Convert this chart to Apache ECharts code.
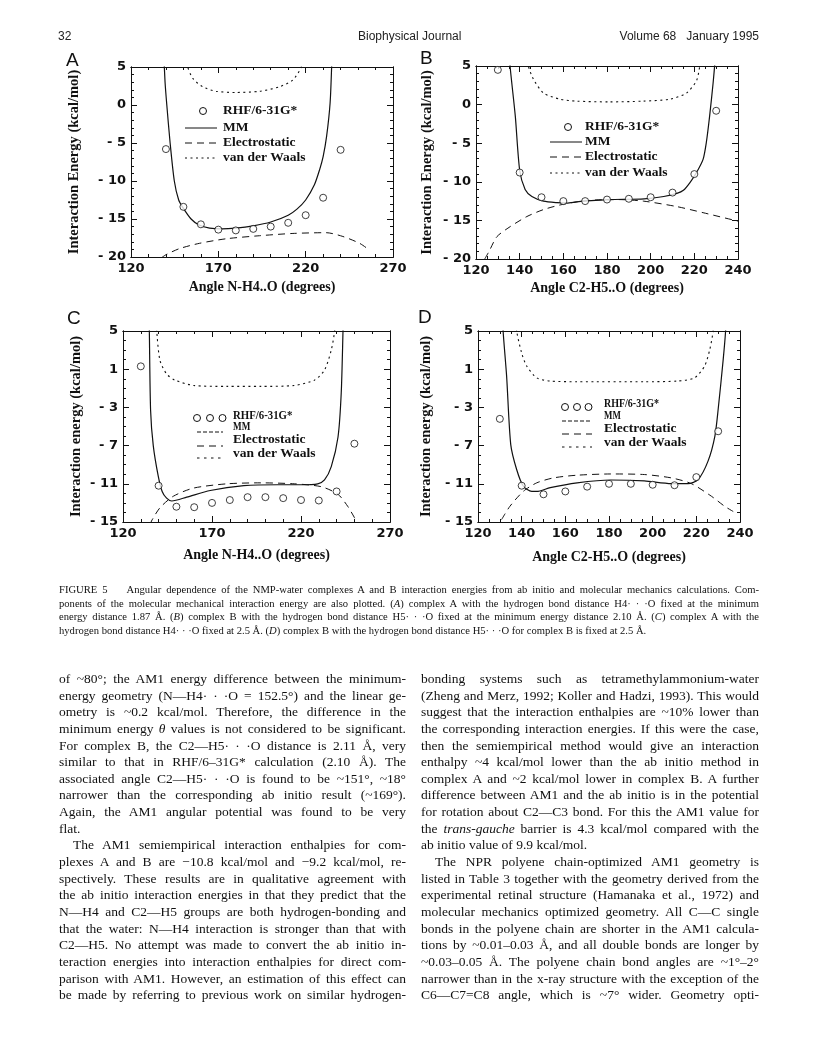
<!DOCTYPE html>
<html>
<head>
<meta charset="utf-8">
<script src="https://cdn.jsdelivr.net/npm/echarts@6/dist/echarts.min.js"></script>
<style>
html,body{margin:0;padding:0;background:#fff;}
#page{position:relative;width:816px;height:1056px;overflow:hidden;background:#fff;}
#chart{position:absolute;left:0;top:0;width:816px;height:1056px;}
.hdr{position:absolute;top:29px;font-family:"Liberation Sans",Arial,sans-serif;font-size:12px;color:#222;white-space:nowrap;}
.plet{position:absolute;font-family:"Liberation Sans",Arial,sans-serif;font-size:19px;color:#111;}
.cap{position:absolute;left:59px;width:700px;top:583px;font-family:"Liberation Serif","Times New Roman",serif;font-size:10.6px;line-height:13.6px;color:#111;}
.col{position:absolute;top:671px;font-family:"Liberation Serif","Times New Roman",serif;font-size:13.5px;line-height:16.65px;color:#111;}
.j{text-align:justify;text-align-last:justify;height:16.65px;}
.cap .j{height:13.6px;}
.l{text-align:left;text-align-last:left;}
.ind{text-indent:14px;}
</style>
</head>
<body>
<div id="page">
<div id="chart"></div>
<div class="hdr" style="left:58px;">32</div>
<div class="hdr" style="left:358px;">Biophysical Journal</div>
<div class="hdr" style="right:57px;">Volume 68&nbsp;&nbsp;&nbsp;January 1995</div>
<div class="plet" style="left:66px;top:49px;">A</div>
<div class="plet" style="left:420px;top:47px;">B</div>
<div class="plet" style="left:67px;top:307px;">C</div>
<div class="plet" style="left:418px;top:306px;">D</div>

<div class="cap">
<div class="j">FIGURE 5&nbsp;&nbsp;&nbsp; Angular dependence of the NMP-water complexes A and B interaction energies from ab initio and molecular mechanics calculations. Com-</div>
<div class="j">ponents of the molecular mechanical interaction energy are also plotted. (<i>A</i>) complex A with the hydrogen bond distance H4· · ·O fixed at the minimum</div>
<div class="j">energy distance 1.87 Å. (<i>B</i>) complex B with the hydrogen bond distance H5· · ·O fixed at the minimum energy distance 2.10 Å. (<i>C</i>) complex A with the</div>
<div class="j l">hydrogen bond distance H4· · ·O fixed at 2.5 Å. (<i>D</i>) complex B with the hydrogen bond distance H5· · ·O for complex B is fixed at 2.5 Å.</div>
</div>

<div class="col" style="left:59px;width:347px;">
<div class="j">of ~80°; the AM1 energy difference between the minimum-</div>
<div class="j">energy geometry (N—H4· · ·O = 152.5°) and the linear ge-</div>
<div class="j">ometry is ~0.2 kcal/mol. Therefore, the difference in the</div>
<div class="j">minimum energy <i>θ</i> values is not considered to be significant.</div>
<div class="j">For complex B, the C2—H5· · ·O distance is 2.11 Å, very</div>
<div class="j">similar to that in RHF/6–31G* calculation (2.10 Å). The</div>
<div class="j">associated angle C2—H5· · ·O is found to be ~151°, ~18°</div>
<div class="j">narrower than the corresponding ab initio result (~169°).</div>
<div class="j">Again, the AM1 angular potential was found to be very</div>
<div class="j l">flat.</div>
<div class="j ind">The AM1 semiempirical interaction enthalpies for com-</div>
<div class="j">plexes A and B are −10.8 kcal/mol and −9.2 kcal/mol, re-</div>
<div class="j">spectively. These results are in qualitative agreement with</div>
<div class="j">the ab initio interaction energies in that they predict that the</div>
<div class="j">N—H4 and C2—H5 groups are both hydrogen-bonding and</div>
<div class="j">that the water: N—H4 interaction is stronger than that with</div>
<div class="j">C2—H5. No attempt was made to convert the ab initio in-</div>
<div class="j">teraction energies into interaction enthalpies for direct com-</div>
<div class="j">parison with AM1. However, an estimation of this effect can</div>
<div class="j">be made by referring to previous work on similar hydrogen-</div>
</div>

<div class="col" style="left:421px;width:338px;">
<div class="j">bonding systems such as tetramethylammonium-water</div>
<div class="j">(Zheng and Merz, 1992; Koller and Hadzi, 1993). This would</div>
<div class="j">suggest that the interaction enthalpies are ~10% lower than</div>
<div class="j">the corresponding interaction energies. If this were the case,</div>
<div class="j">then the semiempirical method would give an interaction</div>
<div class="j">enthalpy ~4 kcal/mol lower than the ab initio method in</div>
<div class="j">complex A and ~2 kcal/mol lower in complex B. A further</div>
<div class="j">difference between AM1 and the ab initio is in the potential</div>
<div class="j">for rotation about C2—C3 bond. For this the AM1 value for</div>
<div class="j">the <i>trans-gauche</i> barrier is 4.3 kcal/mol compared with the</div>
<div class="j l">ab initio value of 9.9 kcal/mol.</div>
<div class="j ind">The NPR polyene chain-optimized AM1 geometry is</div>
<div class="j">listed in Table 3 together with the geometry derived from the</div>
<div class="j">experimental retinal structure (Hamanaka et al., 1972) and</div>
<div class="j">molecular mechanics optimized geometry. All C—C single</div>
<div class="j">bonds in the polyene chain are shorter in the AM1 calcula-</div>
<div class="j">tions by ~0.01–0.03 Å, and all double bonds are longer by</div>
<div class="j">~0.03–0.05 Å. The polyene chain bond angles are ~1°–2°</div>
<div class="j">narrower than in the x-ray structure with the exception of the</div>
<div class="j">C6—C7=C8 angle, which is ~7° wider. Geometry opti-</div>
</div>
</div>

<script>
// ---------------- DATA ----------------
// Panel A
const A_xTicks = [120, 170, 220, 270];
const A_yTicks = [-20, -15, -10, -5, 0, 5];
const A_rhf_x = [140, 150, 160, 170, 180, 190, 200, 210, 220, 230, 240];
const A_rhf_y = [-5.8, -13.4, -15.7, -16.4, -16.5, -16.3, -16.0, -15.5, -14.5, -12.2, -5.9];
const A_mm_x = [138.5, 139.5, 140.5, 142.4, 144.8, 147.3, 150, 154.4, 159, 165, 172, 180, 190, 200, 210, 215, 220, 225, 228, 230, 232, 234, 235];
const A_mm_y = [8, 3, 0, -5, -10, -12.5, -13.6, -15.0, -15.8, -16.2, -16.3, -16.2, -15.9, -15.4, -14.5, -13.7, -12.5, -10.5, -8.5, -6.8, -4.1, 0.3, 6];
const A_el_x = [137.5, 140, 147.7, 159.2, 174.5, 193.6, 212.7, 231.8, 241.3, 250.9, 256];
const A_el_y = [-20.1, -19.7, -18.9, -18.2, -17.6, -17.2, -16.9, -16.8, -17.3, -18.2, -19.0];
const A_vdw_x = [151, 152.5, 155.4, 161, 168.7, 180, 193.6, 205, 212.7, 217.5, 219];
const A_vdw_y = [7, 5, 3.5, 2.4, 1.8, 1.65, 1.8, 2.4, 3.3, 5, 7];

// Panel B
const B_xTicks = [120, 140, 160, 180, 200, 220, 240];
const B_yTicks = [-20, -15, -10, -5, 0, 5];
const B_rhf_x = [130, 140, 150, 160, 170, 180, 190, 200, 210, 220, 230];
const B_rhf_y = [4.5, -8.8, -12.0, -12.5, -12.5, -12.3, -12.2, -12.0, -11.4, -9.0, -0.8];
const B_mm_x = [135, 135.6, 138, 140, 142.5, 145.6, 150.9, 157, 162, 169, 181, 197, 206, 212, 215, 218, 221, 224, 225.5, 227, 228.6, 229.6];
const B_mm_y = [8, 5, -1.5, -8.5, -11, -11.9, -12.5, -12.7, -12.75, -12.5, -12.3, -12.2, -11.9, -11.5, -11.1, -10.1, -8.8, -7.1, -4.9, -1.5, 2.8, 6];
const B_el_x = [124, 126, 129.6, 135.7, 143.3, 150.9, 158.5, 166, 175, 185, 196.6, 211.8, 224, 240];
const B_el_y = [-20, -19.0, -17.1, -15.8, -14.5, -13.6, -13.0, -12.6, -12.35, -12.3, -12.5, -13.2, -14.0, -15.1];
const B_vdw_x = [143, 144, 146.3, 150.9, 158.5, 166, 181, 196.6, 208.8, 216.4, 221, 222.5, 223.5];
const B_vdw_y = [7, 5, 3.3, 1.5, 0.7, 0.45, 0.35, 0.45, 0.7, 1.5, 3.1, 5, 7];

// Panel C
const C_xTicks = [120, 170, 220, 270];
const C_yTicks = [-15, -11, -7, -3, 1, 5];
const C_rhf_x = [130, 140, 150, 160, 170, 180, 190, 200, 210, 220, 230, 240, 250];
const C_rhf_y = [1.3, -11.2, -13.4, -13.45, -13.0, -12.7, -12.4, -12.4, -12.5, -12.7, -12.75, -11.8, -6.8];
const C_mm_x = [134.5, 134.8, 135.5, 137, 139.8, 142, 144.5, 147.4, 155.8, 169, 187.9, 206.8, 220, 229.4, 233.2, 237, 240.8, 242.6, 243.6, 244];
const C_mm_y = [8, 5, -3.3, -7, -10.2, -11.8, -12.5, -12.8, -12.4, -11.7, -11.2, -11.1, -11.1, -11.0, -10.6, -9.2, -6.1, -1.5, 5, 8];
const C_el_x = [135.5, 136, 140.8, 148.3, 159.6, 178.5, 197.4, 216.2, 231.3, 240.8, 246.4, 250.2];
const C_el_y = [-15.3, -14.9, -13.5, -12.3, -11.45, -11.0, -10.9, -11.0, -11.3, -12.1, -13.4, -14.6];
const C_vdw_x = [138.5, 139.2, 140.8, 144.5, 149.2, 159.6, 178.5, 197.4, 216.2, 227.5, 233.2, 237, 238.9, 239.5];
const C_vdw_y = [7, 4.4, 1.9, 0.5, -0.15, -0.7, -0.8, -0.8, -0.7, -0.15, 0.9, 3, 5, 7];

// Panel D
const D_xTicks = [120, 140, 160, 180, 200, 220, 240];
const D_yTicks = [-15, -11, -7, -3, 1, 5];
const D_rhf_x = [130, 140, 150, 160, 170, 180, 190, 200, 210, 220, 230];
const D_rhf_y = [-4.2, -11.2, -12.1, -11.8, -11.3, -11.0, -11.0, -11.1, -11.15, -10.3, -5.5];
const D_mm_x = [131, 131.5, 133.1, 135, 137.7, 140.8, 144.6, 146.9, 153.1, 165.4, 180.8, 196.2, 208.5, 216.2, 220.8, 225.4, 228.5, 230, 232.3, 233.4, 234];
const D_mm_y = [8, 5, 0.3, -6.9, -9.5, -11.26, -11.8, -11.8, -11.4, -10.9, -10.6, -10.7, -10.98, -10.98, -10.56, -8.6, -6.0, -3.2, 2.0, 5, 8];
const D_el_x = [130.8, 134.6, 140.8, 146.9, 154.6, 165.4, 180.8, 196.2, 208.5, 217.7, 226.9, 233, 236.9];
const D_el_y = [-14.75, -13.36, -11.78, -10.9, -10.38, -10.1, -9.97, -10.03, -10.38, -10.98, -12.3, -13.36, -13.9];
const D_vdw_x = [137, 137.7, 140, 142.3, 146.9, 153.1, 165.4, 196.2, 211.5, 219.2, 223.8, 226.2, 227.7, 228.3];
const D_vdw_y = [7, 5, 2.7, 1.33, 0.1, -0.24, -0.31, -0.31, -0.24, 0.1, 1.33, 3.1, 5, 7];

const legendNames = ['RHF/6-31G*', 'MM', 'Electrostatic', 'van der Waals'];

// ---------------- LAYOUT ----------------
const zip = (xs, ys) => xs.map((x, i) => [x, ys[i]]);
const panels = [
  { grid: {left: 131, top: 67, width: 262, height: 190}, xMin: 120, xMax: 270, xMinor: 10, yMin: -20, yMax: 5, yMinor: 1,
    xTicks: A_xTicks, yTicks: A_yTicks, xName: 'Angle N-H4..O (degrees)', yName: 'Interaction Energy (kcal/mol)', xGap: 23, yGap: 49,
    rhf: zip(A_rhf_x, A_rhf_y), mm: zip(A_mm_x, A_mm_y), el: zip(A_el_x, A_el_y), vdw: zip(A_vdw_x, A_vdw_y) },
  { grid: {left: 476, top: 66, width: 262, height: 193}, xMin: 120, xMax: 240, xMinor: 5, yMin: -20, yMax: 5, yMinor: 1,
    xTicks: B_xTicks, yTicks: B_yTicks, xName: 'Angle C2-H5..O (degrees)', yName: 'Interaction Energy (kcal/mol)', xGap: 22, yGap: 41,
    rhf: zip(B_rhf_x, B_rhf_y), mm: zip(B_mm_x, B_mm_y), el: zip(B_el_x, B_el_y), vdw: zip(B_vdw_x, B_vdw_y) },
  { grid: {left: 123, top: 331, width: 267, height: 191}, xMin: 120, xMax: 270, xMinor: 10, yMin: -15, yMax: 5, yMinor: 1,
    xTicks: C_xTicks, yTicks: C_yTicks, xName: 'Angle N-H4..O (degrees)', yName: 'Interaction energy (kcal/mol)', xGap: 26, yGap: 39,
    rhf: zip(C_rhf_x, C_rhf_y), mm: zip(C_mm_x, C_mm_y), el: zip(C_el_x, C_el_y), vdw: zip(C_vdw_x, C_vdw_y) },
  { grid: {left: 478, top: 331, width: 262, height: 191}, xMin: 120, xMax: 240, xMinor: 5, yMin: -15, yMax: 5, yMinor: 1,
    xTicks: D_xTicks, yTicks: D_yTicks, xName: 'Angle C2-H5..O (degrees)', yName: 'Interaction energy (kcal/mol)', xGap: 28, yGap: 44,
    rhf: zip(D_rhf_x, D_rhf_y), mm: zip(D_mm_x, D_mm_y), el: zip(D_el_x, D_el_y), vdw: zip(D_vdw_x, D_vdw_y) }
];

const INK = '#111';
const tickFont = {color: INK, fontFamily: 'DejaVu Sans', fontWeight: 'bold', fontSize: 13};
const titleFont = {color: INK, fontFamily: 'Liberation Serif', fontWeight: 'bold'};
const fmt = v => (v < 0 ? '- ' + Math.abs(v) : String(v));
const range = (a, b, s) => { const r = []; for (let v = a; v <= b + 1e-9; v += s) r.push(+v.toFixed(6)); return r; };
const DASH_EL = [7, 5];
const DASH_VDW = [2, 3.5];

const grids = [], xAxes = [], yAxes = [], series = [];
panels.forEach((p, gi) => {
  grids.push(Object.assign({}, p.grid, {show: false}));
  const xMinorVals = range(p.xMin, p.xMax, p.xMinor);
  const yMinorVals = range(p.yMin, p.yMax, p.yMinor);
  const baseX = (pos, vals, len, main) => ({
    type: 'value', gridIndex: gi, position: pos, min: p.xMin, max: p.xMax,
    axisLine: {show: true, onZero: false, lineStyle: {color: INK, width: 1}},
    axisTick: {show: true, inside: true, length: len, customValues: vals, lineStyle: {color: INK, width: 1}},
    axisLabel: main ? Object.assign({show: true, customValues: vals, margin: 5, formatter: fmt}, tickFont) : {show: false},
    splitLine: {show: false},
    name: main ? p.xName : '', nameLocation: 'middle', nameGap: p.xGap,
    nameTextStyle: Object.assign({fontSize: 14}, titleFont)
  });
  const baseY = (pos, vals, len, main) => ({
    type: 'value', gridIndex: gi, position: pos, min: p.yMin, max: p.yMax,
    axisLine: {show: true, onZero: false, lineStyle: {color: INK, width: 1}},
    axisTick: {show: true, inside: true, length: len, customValues: vals, lineStyle: {color: INK, width: 1}},
    axisLabel: main ? Object.assign({show: true, customValues: vals, margin: 5, formatter: fmt}, tickFont) : {show: false},
    splitLine: {show: false},
    name: main ? p.yName : '', nameLocation: 'middle', nameGap: p.yGap, nameRotate: 90,
    nameTextStyle: Object.assign({fontSize: 14.5}, titleFont)
  });
  xAxes.push(baseX('bottom', p.xTicks, 6, true), baseX('bottom', xMinorVals, 3, false),
             baseX('top', p.xTicks, 6, false), baseX('top', xMinorVals, 3, false));
  yAxes.push(baseY('left', p.yTicks, 6, true), baseY('left', yMinorVals, 3, false),
             baseY('right', p.yTicks, 6, false), baseY('right', yMinorVals, 3, false));
  const ai = gi * 4;
  const lineBase = {type: 'line', xAxisIndex: ai, yAxisIndex: ai, showSymbol: false, symbol: 'none', smooth: 0.25, clip: true, silent: true, animation: false};
  series.push(Object.assign({}, lineBase, {name: 'Electrostatic', data: p.el, lineStyle: {color: INK, width: 1, type: DASH_EL}}));
  series.push(Object.assign({}, lineBase, {name: 'van der Waals', data: p.vdw, lineStyle: {color: INK, width: 1.1, type: DASH_VDW}}));
  series.push(Object.assign({}, lineBase, {name: 'MM', data: p.mm, lineStyle: {color: INK, width: 1.2, type: 'solid'}}));
  series.push({type: 'scatter', name: 'RHF/6-31G*', xAxisIndex: ai, yAxisIndex: ai, data: p.rhf, symbol: 'circle', symbolSize: 7,
    itemStyle: {color: '#fff', borderColor: INK, borderWidth: 1}, z: 5, silent: true, animation: false, clip: false});
});

// ---------------- LEGENDS (drawn as graphic keys) ----------------
const legFont = 'bold 13.5px "Liberation Serif"';
const graphic = [];
function txt(x, y, s, sx) {
  graphic.push({type: 'text', x: x, y: y, scaleX: sx || 1, originX: 0, originY: 0,
    style: {text: s, font: legFont, fill: INK, verticalAlign: 'middle', align: 'left'}});
}
function circ(cx, cy) { graphic.push({type: 'circle', shape: {cx: cx, cy: cy, r: 3.5}, style: {fill: '#fff', stroke: INK, lineWidth: 1}}); }
function seg(x1, x2, y, dash) { graphic.push({type: 'line', shape: {x1: x1, y1: y, x2: x2, y2: y}, style: {stroke: INK, lineWidth: 1, lineDash: dash || null}}); }

// A
circ(203, 111);
seg(185, 217, 128); seg(185, 217, 143, DASH_EL); seg(185, 217, 158, DASH_VDW);
txt(223, 111, legendNames[0]); txt(223, 128, legendNames[1]); txt(223, 143, legendNames[2]); txt(223, 158, legendNames[3]);
// B
circ(568, 127);
seg(550, 582, 142); seg(550, 582, 157, DASH_EL); seg(550, 582, 173, DASH_VDW);
txt(585, 127, legendNames[0]); txt(585, 142, legendNames[1]); txt(585, 157, legendNames[2]); txt(585, 173, legendNames[3]);
// C
circ(197, 418); circ(210, 418); circ(222.5, 418);
seg(197, 223, 432, [4, 2]); seg(197, 223, 446, DASH_EL); seg(197, 223, 458, [2.5, 4.5]);
txt(233, 416, legendNames[0], 0.8); txt(233, 427, legendNames[1], 0.68); txt(233, 440, legendNames[2]); txt(233, 454, legendNames[3]);
// D
circ(565, 407); circ(577, 407); circ(588.5, 407);
seg(562, 592, 421, [4, 2]); seg(562, 592, 434, DASH_EL); seg(562, 592, 447, [2.5, 4.5]);
txt(604, 404, legendNames[0], 0.74); txt(604, 416, legendNames[1], 0.66); txt(604, 429, legendNames[2]); txt(604, 443, legendNames[3]);

const chart = echarts.init(document.getElementById('chart'), null, {renderer: 'canvas'});
chart.setOption({
  animation: false,
  backgroundColor: 'transparent',
  grid: grids, xAxis: xAxes, yAxis: yAxes, series: series, graphic: graphic
});
</script>
</body>
</html>
